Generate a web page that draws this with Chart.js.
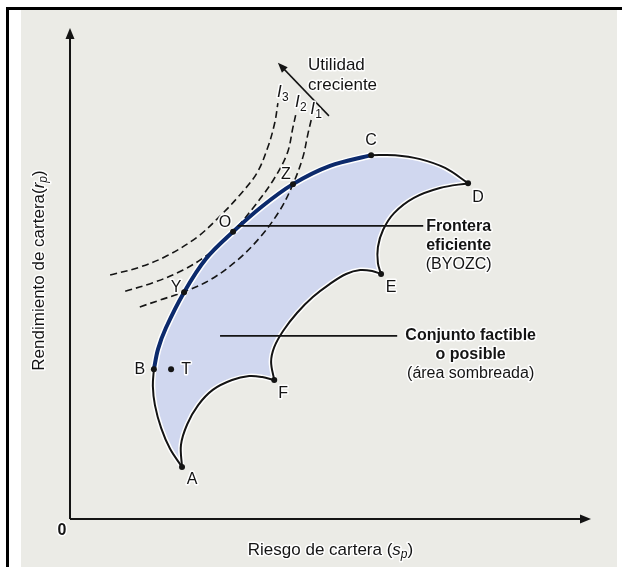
<!DOCTYPE html>
<html>
<head>
<meta charset="utf-8">
<style>
  html, body { margin: 0; padding: 0; background: #fff; }
  #wrap { width: 622px; height: 567px; }
</style>
<script src="https://cdn.jsdelivr.net/npm/chart.js@4.4.1/dist/chart.umd.min.js"></script>
</head>
<body>
<div id="wrap"><canvas id="frontierChart" width="622" height="567"></canvas></div>
<script>
// Values: x = riesgo (0..10), y = rendimiento (0..10)

// efficient frontier B -> Y -> O -> Z -> C
const frontierBC = [[1.61,3.05],[1.69,3.46],[1.84,3.89],[2.19,4.62],[2.61,5.30],[3.13,5.85],[3.69,6.37],[4.28,6.82],[4.99,7.19],[5.78,7.41]];
// rest of the feasible set outline
const edgeCD = [[5.78,7.41],[6.24,7.41],[6.72,7.33],[7.20,7.15],[7.64,6.84]];
const edgeDE = [[7.64,6.84],[7.10,6.74],[6.60,6.54],[6.22,6.23],[6.01,5.89],[5.91,5.54],[5.91,5.21],[5.97,4.99]];
const edgeEF = [[5.97,4.99],[5.80,5.05],[5.57,5.07],[5.30,4.99],[4.99,4.79],[4.66,4.52],[4.36,4.20],[4.09,3.83],[3.92,3.50],[3.86,3.20],[3.92,2.83]];
const edgeFA = [[3.92,2.83],[3.69,2.89],[3.44,2.91],[3.11,2.83],[2.74,2.63],[2.46,2.32],[2.25,1.93],[2.13,1.51],[2.15,1.06]];
const edgeAB = [[2.15,1.06],[1.92,1.43],[1.75,1.85],[1.63,2.32],[1.59,2.71],[1.61,3.05]];

// indifference curves
const curveI3 = [[0.77,4.97],[1.34,5.13],[1.86,5.36],[2.44,5.74],[2.88,6.17],[3.26,6.60],[3.59,7.05],[3.80,7.58],[3.93,8.07],[3.99,8.47]];
const curveI2 = [[1.06,4.64],[1.59,4.81],[2.17,5.07],[2.69,5.42],[3.13,5.85],[3.51,6.33],[3.90,6.90],[4.17,7.45],[4.28,7.98],[4.34,8.27]];
const curveI1 = [[1.34,4.32],[1.73,4.46],[2.17,4.62],[2.69,4.87],[3.21,5.27],[3.65,5.74],[4.03,6.29],[4.28,6.82],[4.47,7.37],[4.57,7.86],[4.63,8.13]];
const curveNames = ['3', '2', '1'];

// named portfolios
const pointNames = ['A', 'B', 'T', 'Y', 'O', 'Z', 'C', 'D', 'E', 'F'];
const pointRisk = [2.15, 1.61, 1.94, 2.19, 3.13, 4.28, 5.78, 7.64, 5.97, 3.92];
const pointReturn = [1.06, 3.05, 3.05, 4.62, 5.85, 6.82, 7.41, 6.84, 4.99, 2.83];

// annotations
const utilityArrow = [[4.97,8.21],[3.99,9.29]];
const frontierLeader = [[3.22,5.97],[6.78,5.97]];
const feasibleLeader = [[2.88,3.73],[6.28,3.73]];
const frontierNote = ['Frontera', 'eficiente', '(BYOZC)'];
const feasibleNote = ['Conjunto factible', 'o posible', '(área sombreada)'];
const utilityNote = ['Utilidad', 'creciente'];

const FONT = '"Liberation Sans", Arial, sans-serif';
const INK = '#141414';
const NAVY = '#0c2a6c';

// label offsets in pixels (style only)
const labelOffset = {
  A: [10, 13], B: [-14, 0], T: [15, 0], Y: [-8, -5], O: [-8, -9],
  Z: [-7, -10], C: [0, -15], D: [10, 14], E: [10, 14], F: [9, 14]
};

const toXY = pts => pts.map(p => ({x: p[0], y: p[1]}));

function haloText(ctx, s, x, y) {
  ctx.save();
  ctx.strokeStyle = 'rgba(255,255,255,0.95)';
  ctx.lineWidth = 3;
  ctx.lineJoin = 'round';
  ctx.strokeText(s, x, y);
  ctx.restore();
  ctx.fillText(s, x, y);
}

// draws text made of pieces (for the italic subscripts)
function richText(ctx, parts, cx, cy) {
  let w = 0;
  parts.forEach(p => { ctx.font = p.font; w += ctx.measureText(p.t).width; });
  let x = cx - w / 2;
  ctx.textAlign = 'left';
  ctx.textBaseline = 'middle';
  parts.forEach(p => {
    ctx.font = p.font;
    haloText(ctx, p.t, x, cy + (p.dy || 0));
    x += ctx.measureText(p.t).width;
  });
}

function arrowHead(ctx, fromX, fromY, toX, toY, len, half) {
  const a = Math.atan2(toY - fromY, toX - fromX);
  ctx.beginPath();
  ctx.moveTo(toX, toY);
  ctx.lineTo(toX - len * Math.cos(a) + half * Math.sin(a), toY - len * Math.sin(a) - half * Math.cos(a));
  ctx.lineTo(toX - len * Math.cos(a) - half * Math.sin(a), toY - len * Math.sin(a) + half * Math.cos(a));
  ctx.closePath();
  ctx.fill();
}

const backdrop = {
  id: 'backdrop',
  beforeDraw(chart) {
    const ctx = chart.ctx;
    ctx.save();
    ctx.fillStyle = '#ffffff';
    ctx.fillRect(0, 0, chart.width, chart.height);
    ctx.fillStyle = '#ebebe6';
    ctx.fillRect(21, 9, 596, chart.height - 9);
    ctx.fillStyle = '#000';
    ctx.fillRect(6, 7, chart.width - 6, 3);
    ctx.fillRect(6, 7, 3, chart.height - 7);
    ctx.restore();
  }
};

const axesArrows = {
  id: 'axesArrows',
  beforeDatasetsDraw(chart) {
    const ctx = chart.ctx, xs = chart.scales.x, ys = chart.scales.y;
    const x0 = xs.getPixelForValue(0), y0 = ys.getPixelForValue(0);
    const xEnd = xs.getPixelForValue(xs.max), yEnd = ys.getPixelForValue(ys.max);
    ctx.save();
    ctx.strokeStyle = INK;
    ctx.fillStyle = INK;
    ctx.lineWidth = 2;
    ctx.beginPath();
    ctx.moveTo(x0, y0);
    ctx.lineTo(x0, yEnd + 6);
    ctx.moveTo(x0, y0);
    ctx.lineTo(xEnd - 6, y0);
    ctx.stroke();
    arrowHead(ctx, x0, y0, x0, yEnd, 11, 4.5);
    arrowHead(ctx, x0, y0, xEnd, y0, 11, 4.5);

    ctx.font = 'bold 16px ' + FONT;
    ctx.textAlign = 'center';
    ctx.textBaseline = 'middle';
    haloText(ctx, '0', x0 - 8, y0 + 12);

    const area = chart.chartArea;
    richText(ctx, [
      {t: 'Riesgo de cartera (', font: '17px ' + FONT},
      {t: 's', font: 'italic 17px ' + FONT},
      {t: 'p', font: 'italic 12px ' + FONT, dy: 5},
      {t: ')', font: '17px ' + FONT}
    ], (area.left + area.right) / 2, area.bottom + 31);

    ctx.save();
    ctx.translate(area.left - 31, (area.top + area.bottom) / 2 - 3);
    ctx.rotate(-Math.PI / 2);
    richText(ctx, [
      {t: 'Rendimiento de cartera(', font: '17px ' + FONT},
      {t: 'r', font: 'italic 17px ' + FONT},
      {t: 'p', font: 'italic 12px ' + FONT, dy: 5},
      {t: ')', font: '17px ' + FONT}
    ], 0, 0);
    ctx.restore();
    ctx.restore();
  }
};

const notes = {
  id: 'notes',
  afterDatasetsDraw(chart) {
    const ctx = chart.ctx, xs = chart.scales.x, ys = chart.scales.y;
    const px = v => xs.getPixelForValue(v), py = v => ys.getPixelForValue(v);
    ctx.save();
    ctx.strokeStyle = INK;
    ctx.fillStyle = INK;

    // leader lines
    ctx.lineWidth = 1.6;
    [frontierLeader, feasibleLeader].forEach(l => {
      ctx.beginPath();
      ctx.moveTo(px(l[0][0]), py(l[0][1]));
      ctx.lineTo(px(l[1][0]), py(l[1][1]));
      ctx.stroke();
    });

    // increasing utility arrow
    const ax0 = px(utilityArrow[0][0]), ay0 = py(utilityArrow[0][1]);
    const ax1 = px(utilityArrow[1][0]), ay1 = py(utilityArrow[1][1]);
    ctx.lineWidth = 1.5;
    ctx.beginPath();
    ctx.moveTo(ax0, ay0);
    ctx.lineTo(ax1 + 4, ay1 + 4);
    ctx.stroke();
    arrowHead(ctx, ax0, ay0, ax1, ay1, 10, 4);

    ctx.textBaseline = 'middle';
    ctx.textAlign = 'left';
    ctx.font = '17px ' + FONT;
    utilityNote.forEach((s, i) => haloText(ctx, s, px(4.57), py(9.23) + i * 20));

    ctx.textAlign = 'center';
    frontierNote.forEach((s, i) => {
      ctx.font = (i < 2 ? 'bold 16px ' : '16px ') + FONT;
      haloText(ctx, s, px(7.46), py(5.95) + i * 19);
    });
    feasibleNote.forEach((s, i) => {
      ctx.font = (i < 2 ? 'bold 16px ' : '16px ') + FONT;
      haloText(ctx, s, px(7.69), py(3.73) + i * 19);
    });

    // point labels
    ctx.font = '16px ' + FONT;
    pointNames.forEach((n, i) => {
      const o = labelOffset[n];
      haloText(ctx, n, px(pointRisk[i]) + o[0], py(pointReturn[i]) + o[1]);
    });

    // I3, I2, I1 at the top of each dashed curve
    [curveI3, curveI2, curveI1].forEach((c, i) => {
      const top = c[c.length - 1];
      const x = px(top[0]) + 2, y = py(top[1]) - 11;
      ctx.textAlign = 'left';
      ctx.font = 'italic 17px ' + FONT;
      haloText(ctx, 'I', x - 3, y);
      ctx.font = '12px ' + FONT;
      haloText(ctx, curveNames[i], x + 2, y + 6);
    });
    ctx.restore();
  }
};

const outlineEdges = [edgeCD, edgeDE, edgeEF, edgeFA, edgeAB];
const feasibleShape = [].concat(frontierBC, edgeCD, edgeDE, edgeEF, edgeFA, edgeAB);

const datasets = [];
// shaded feasible set
datasets.push({
  data: toXY(feasibleShape), fill: 'shape', backgroundColor: '#d0d7ef',
  borderWidth: 0, pointRadius: 0, tension: 0.35, order: 9
});
// white halos under the outline
outlineEdges.forEach(e => datasets.push({
  data: toXY(e), borderColor: '#ffffff', borderWidth: 5, pointRadius: 0, tension: 0.35, fill: false, order: 8
}));
datasets.push({
  data: toXY(frontierBC), borderColor: '#ffffff', borderWidth: 7, pointRadius: 0, tension: 0.35, fill: false, order: 8
});
// dashed indifference curves
[curveI3, curveI2, curveI1].forEach(c => datasets.push({
  data: toXY(c), borderColor: INK, borderWidth: 1.6, borderDash: [7, 4], pointRadius: 0,
  tension: 0.35, fill: false, order: 7
}));
// black outline
outlineEdges.forEach(e => datasets.push({
  data: toXY(e), borderColor: INK, borderWidth: 2, pointRadius: 0, tension: 0.35, fill: false, order: 3
}));
// efficient frontier
datasets.push({
  data: toXY(frontierBC), borderColor: NAVY, borderWidth: 4, pointRadius: 0, tension: 0.35, fill: false, order: 2
});
// portfolio dots
datasets.push({
  data: pointRisk.map((x, i) => ({x: x, y: pointReturn[i]})), showLine: false,
  pointRadius: 3, pointBackgroundColor: INK, pointBorderWidth: 0, order: 1
});

new Chart(document.getElementById('frontierChart').getContext('2d'), {
  type: 'line',
  data: {datasets: datasets},
  options: {
    responsive: false,
    animation: false,
    layout: {padding: {left: 70, right: 31, top: 28, bottom: 48}},
    plugins: {legend: {display: false}, tooltip: {enabled: false}},
    scales: {
      x: {type: 'linear', min: 0, max: 10, display: false},
      y: {type: 'linear', min: 0, max: 10, display: false}
    }
  },
  plugins: [backdrop, axesArrows, notes]
});
</script>
</body>
</html>
